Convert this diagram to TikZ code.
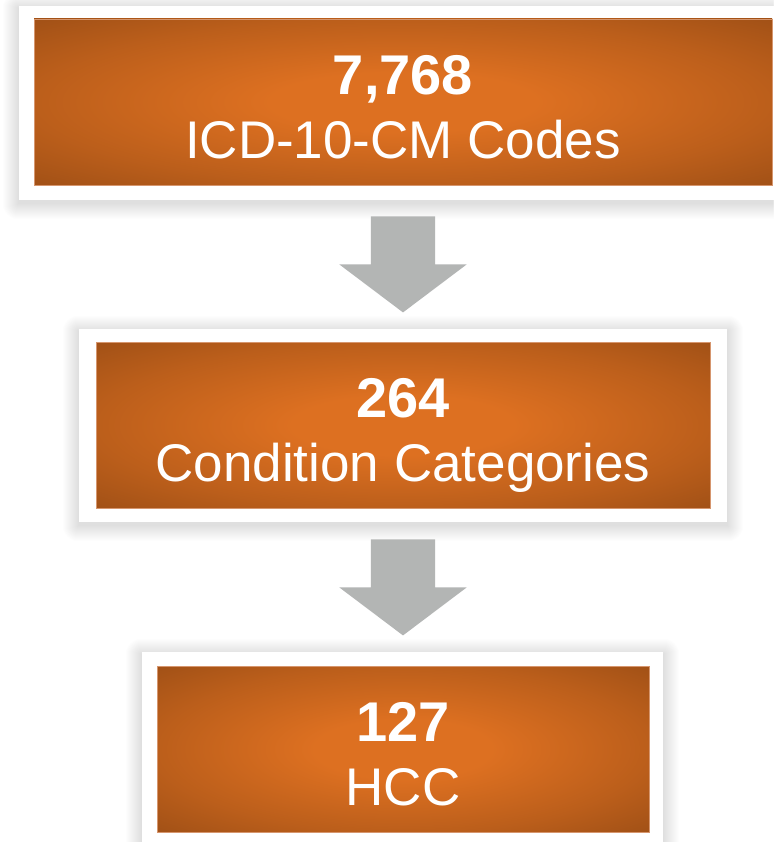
\documentclass[tikz,border=0pt]{standalone}
\usepackage{fontspec}
\setmainfont{Liberation Sans}
\usetikzlibrary{positioning,calc,shapes.arrows,backgrounds}
\definecolor{colorcenter}{RGB}{221,112,33}
\definecolor{coloredge}  {RGB}{160,80 ,22}
\definecolor{colorrim}   {RGB}{214,150,110}
\definecolor{colorarrow} {RGB}{179,181,180}
\definecolor{colorshadow}{RGB}{120,120,120}
\pgfdeclareradialshading{boxglow}{\pgfpoint{0bp}{0bp}}{color(0bp)=(colorcenter); color(9bp)=(colorcenter); color(25bp)=(coloredge!55!colorcenter); color(36bp)=(coloredge); color(50bp)=(coloredge)}

\begin{document}
\begin{tikzpicture}[
    x=1pt, y=-1pt,
    frame/.style={fill=white,inner sep=0pt},
    codebox/.style={shading=boxglow,draw=colorrim,line width=0.7pt,inner sep=0pt,minimum height=166pt},
    boxtext/.style={text=white,align=center,font=\fontsize{53}{64}\selectfont,text depth=0pt,inner sep=0pt},
    blockarrow/.style={single arrow,fill=colorarrow,draw=none,rotate=-90,anchor=tail,inner xsep=0pt,inner ysep=32pt,
        minimum height=96pt,single arrow head extend=31.5pt,single arrow tip angle=106},
]
    \useasboundingbox (0,0) rectangle (773,842);

    % Frames
    \node[frame,minimum width=768pt,minimum height=194pt] (icdframe) at (403,103) {};
    \node[frame,minimum width=648pt,minimum height=193pt] (catframe) at (403,425.5) {};
    \node[frame,minimum width=521pt,minimum height=196pt] (hccframe) at (402.5,750) {};

    % Boxes
    \node[codebox,minimum width=738pt] (icd) at (403,102) {};
    \node[codebox,minimum width=614pt] (cat) at (403,425) {};
    \node[codebox,minimum width=492pt] (hcc) at (403,749) {};

    % Text
    \node[boxtext] (icdtext) at ([yshift=-5pt]icd.center) {{\fontsize{56}{64}\selectfont\bfseries 7,768}\\ICD-10-CM Codes};
    \node[boxtext] (cattext) at ([yshift=-5pt]cat.center) {{\fontsize{56}{64}\selectfont\bfseries 264}\\Condition Categories};
    \node[boxtext] (hcctext) at ([yshift=-5pt]hcc.center) {{\fontsize{56}{64}\selectfont\bfseries 127}\\HCC};

    % Arrows
    \node[blockarrow] (arrowa) at ([yshift=-16pt]icdframe.south) {};
    \node[blockarrow] (arrowb) at ([yshift=-17pt]catframe.south) {};

    % Shadows
    \begin{scope}[on background layer]
        \fill[white] (0,0) rectangle (773,842);
        \foreach \f in {icdframe,catframe,hccframe}
            \foreach \r in {1,...,16}
                \fill[colorshadow,opacity=0.011,rounded corners=\r pt] ([shift={(-\r pt,-\r pt-3pt)}]\f.south west) rectangle ([shift={(\r pt,\r pt-3pt)}]\f.north east);
    \end{scope}

\end{tikzpicture}
\end{document}
